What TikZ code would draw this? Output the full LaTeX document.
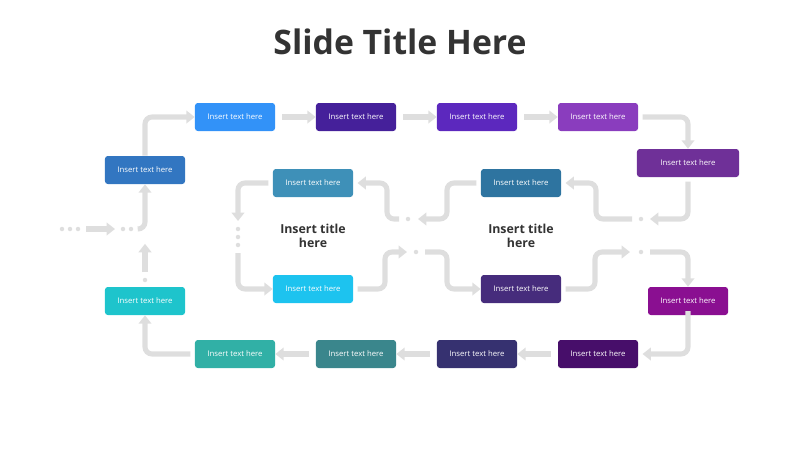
\documentclass[tikz,border=0pt]{standalone}
\usepackage{fontspec}
\setmainfont{Open Sans}
\usetikzlibrary{arrows.meta}
\begin{document}
\begin{tikzpicture}[x=0.025cm,y=-0.025cm,
  bx/.style={rounded corners=2pt,minimum width=2cm,minimum height=0.7cm,text=white,font=\fontsize{5.5}{6}\selectfont,inner sep=0pt},
  cn/.style={draw=black!13,line width=3.6pt,rounded corners=5pt,-{Triangle[length=6pt,width=9pt]}},
  ln/.style={draw=black!13,line width=3.6pt,rounded corners=5pt},
  dt/.style={circle,fill=black!13,inner sep=0pt,minimum size=3.2pt},
  ttl/.style={font=\bfseries\fontsize{8.8}{10}\selectfont,text=black!80,align=center}]
\useasboundingbox (0,0) rectangle (800,450);
\node[font=\bfseries\fontsize{24}{28}\selectfont,text=black!80] (title) at (400,42) {Slide Title Here};
\node[bx,fill={rgb,255:red,50;green,118;blue,193}] (l1) at (145,170) {Insert text here};
\node[bx,fill={rgb,255:red,50;green,146;blue,248}] (t1) at (235,117) {Insert text here};
\node[bx,fill={rgb,255:red,69;green,32;blue,154}] (t2) at (356,117) {Insert text here};
\node[bx,fill={rgb,255:red,92;green,40;blue,190}] (t3) at (477,117) {Insert text here};
\node[bx,fill={rgb,255:red,138;green,61;blue,190}] (t4) at (598,117) {Insert text here};
\node[bx,minimum width=2.55cm,fill={rgb,255:red,111;green,48;blue,152}] (r1) at (688,163) {Insert text here};
\node[bx,fill={rgb,255:red,46;green,116;blue,160}] (i2) at (521,183) {Insert text here};
\node[bx,fill={rgb,255:red,62;green,144;blue,184}] (i1) at (313,183) {Insert text here};
\node[bx,fill={rgb,255:red,29;green,195;blue,239}] (i3) at (313,289) {Insert text here};
\node[bx,fill={rgb,255:red,70;green,44;blue,124}] (i4) at (521,289) {Insert text here};
\node[bx,fill={rgb,255:red,138;green,15;blue,145}] (r2) at (688,301) {Insert text here};
\node[bx,fill={rgb,255:red,71;green,14;blue,106}] (b4) at (598,354) {Insert text here};
\node[bx,fill={rgb,255:red,54;green,49;blue,112}] (b3) at (477,354) {Insert text here};
\node[bx,fill={rgb,255:red,58;green,134;blue,140}] (b2) at (356,354) {Insert text here};
\node[bx,fill={rgb,255:red,49;green,176;blue,166}] (b1) at (235,354) {Insert text here};
\node[bx,fill={rgb,255:red,30;green,196;blue,204}] (l2) at (145,301) {Insert text here};
\node[ttl] (h1) at (313,236) {Insert title\\here};
\node[ttl] (h2) at (521,236) {Insert title\\here};
% lead-in
\foreach \x/\n in {62/a,70/b,78/c,123/d,131/e} \node[dt] (d\n) at (\x,229) {};
\coordinate (s1) at (86,229); \coordinate (s2) at (115,229);
\draw[cn,rounded corners=0pt] (s1) -- (s2);
\coordinate (s3) at (138,229);
\draw[cn] (s3) -| (l1.south);
\node[dt] (dl) at (145,280) {};
\coordinate (u1) at (145,272);
\draw[cn] (u1) -- ([yshift=-2pt]l1.south |- 0,241);
% top
\draw[cn] (l1.north) |- (t1.west);
\draw[cn] (t1.east) ++(5pt,0) coordinate (e1) (e1) -- (t2.west);
\draw[cn] (t2.east) ++(5pt,0) coordinate (e2) (e2) -- (t3.west);
\draw[cn] (t3.east) ++(5pt,0) coordinate (e3) (e3) -- (t4.west);
\draw[cn] (t4.east) ++(3pt,0) coordinate (e4) (e4) -| (r1.north);
% right down to inner
\node[dt] (dr1) at (641,219) {};
\coordinate (c1) at (650,219);
\draw[cn] ([yshift=-3pt]r1.south) |- (c1);
\coordinate (c2) at (632,219);
\draw[cn] (c2) -| (596,183) -- ([xshift=3pt]i2.east);
\node[dt] (dm1) at (408,219) {};
\coordinate (c3) at (418,219);
\draw[cn] ([xshift=-3pt]i2.west) -| (447,219) -- (c3);
\coordinate (c4) at (399,219);
\draw[cn] (c4) -| (387,183) -- ([xshift=3pt]i1.east);
\coordinate (c5) at (238,221);
\draw[cn] ([xshift=-3pt]i1.west) -| (c5);
\foreach \y/\n in {229/a,237/b,245/c} \node[dt] (v\n) at (238,\y) {};
\coordinate (c6) at (238,253);
\draw[cn] (c6) |- (i3.west);
\coordinate (c7) at (407,252);
\draw[cn] ([xshift=3pt]i3.east) -| (385,252) -- (c7);
\node[dt] (dm2) at (416,252) {};
\coordinate (c8) at (425,252);
\draw[cn] (c8) -| (447,289) -- (i4.west);
\coordinate (c9) at (630,252);
\draw[cn] ([xshift=3pt]i4.east) -| (595,252) -- (c9);
\node[dt] (dr2) at (641,252) {};
\coordinate (c10) at (650,252);
\draw[cn] (c10) -| (r2.north);
% bottom
\draw[cn] ([yshift=3pt]r2.south) |- ([xshift=3pt]b4.east);
\draw[cn] (b4.west) ++(-5pt,0) coordinate (f4) (f4) -- (b3.east);
\draw[cn] (b3.west) ++(-5pt,0) coordinate (f3) (f3) -- (b2.east);
\draw[cn] (b2.west) ++(-5pt,0) coordinate (f2) (f2) -- (b1.east);
\draw[cn] ([xshift=-3pt]b1.west) -| (l2.south);
\end{tikzpicture}
\end{document}
